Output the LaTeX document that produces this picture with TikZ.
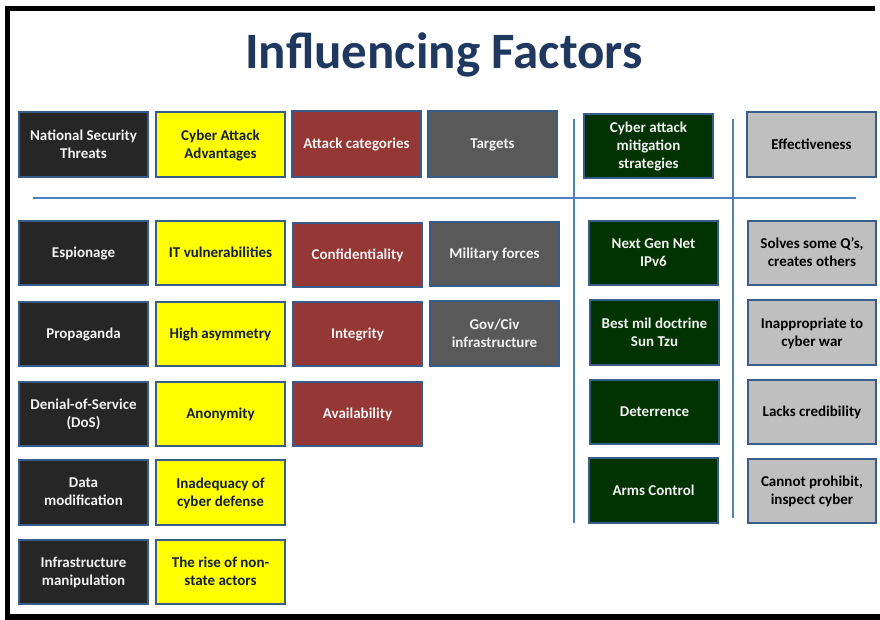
\documentclass[tikz,border=0pt]{standalone}
\usepackage{fontspec}
\setmainfont{Carlito}
\definecolor{titleblue}{RGB}{31,56,96}
\definecolor{edgeblue}{RGB}{56,93,138}
\definecolor{ruleblue}{RGB}{79,129,189}
\definecolor{threatfill}{RGB}{38,38,38}
\definecolor{advfill}{RGB}{255,255,0}
\definecolor{advtext}{RGB}{20,30,60}
\definecolor{catfill}{RGB}{149,55,53}
\definecolor{targetfill}{RGB}{89,89,89}
\definecolor{mitfill}{RGB}{0,51,0}
\definecolor{efffill}{RGB}{191,191,191}
\definecolor{lighttext}{RGB}{242,242,242}
\tikzset{
  x=1pt, y=-1pt,
  factor/.style={draw=edgeblue, line width=1.8pt, rectangle, anchor=north west,
    outer sep=0pt, minimum width=129pt, minimum height=64pt,
    inner xsep=2pt, inner ysep=2pt, text depth=1.5pt, align=center,
    font=\fontsize{15}{18}\selectfont\bfseries},
  threat/.style={factor, fill=threatfill, text=lighttext},
  adv/.style={factor, fill=advfill, text=advtext},
  cat/.style={factor, fill=catfill, text=lighttext},
  target/.style={factor, fill=targetfill, text=lighttext},
  mit/.style={factor, fill=mitfill, text=lighttext},
  eff/.style={factor, fill=efffill, text=black},
  divider/.style={draw=ruleblue, line width=1.4pt},
  frame/.style={fill=black}
}
\begin{document}
\begin{tikzpicture}
\useasboundingbox (0,0) rectangle (880,620);
\fill[white] (0,0) rectangle (880,620);
% slide frame
\fill[frame] (5,6) rectangle (875,11);
\fill[frame] (5,6) rectangle (10,620);
\fill[frame] (5,614) rectangle (880,620);

% title
\node[text=titleblue, font=\fontsize{51}{60}\selectfont\bfseries] (title) at (444,55) {Influencing Factors};

% dividers
\coordinate (hl) at (33,198);
\coordinate (hr) at (856,198);
\coordinate (v1t) at (574,119);
\coordinate (v1b) at (574,523);
\coordinate (v2t) at (733,119);
\coordinate (v2b) at (733,518);
\draw[divider] (hl) -- (hr);
\draw[divider] (v1t) -- (v1b);
\draw[divider] (v2t) -- (v2b);

% header row
\node[threat, minimum height=65pt] (hthreat) at (19,112) {National Security\\Threats};
\node[adv, minimum height=65pt]    (hadv)    at (156,112) {Cyber Attack\\Advantages};
\node[cat, minimum height=66pt]    (hcat)    at (292,111) {Attack categories};
\node[target, minimum height=66pt] (htarget) at (428,111) {Targets};
\node[mit]                         (hmit)    at (584,114) {Cyber attack\\mitigation\\strategies};
\node[eff, minimum height=65pt]    (heff)    at (747,112) {Effectiveness};

% national security threats
\node[threat] (t1) at (19,221) {Espionage};
\node[threat] (t2) at (19,302) {Propaganda};
\node[threat] (t3) at (19,382) {Denial-of-Service\\(DoS)};
\node[threat, minimum height=65pt] (t4) at (19,460) {Data\\modification};
\node[threat] (t5) at (19,540) {Infrastructure\\manipulation};

% cyber attack advantages
\node[adv] (a1) at (156,221) {IT vulnerabilities};
\node[adv] (a2) at (156,302) {High asymmetry};
\node[adv] (a3) at (156,382) {Anonymity};
\node[adv, minimum height=65pt] (a4) at (156,460) {Inadequacy of\\cyber defense};
\node[adv] (a5) at (156,540) {The rise of non-\\state actors};

% attack categories
\node[cat] (c1) at (293,223) {Confidentiality};
\node[cat] (c2) at (293,302) {Integrity};
\node[cat] (c3) at (293,382) {Availability};

% targets
\node[target] (g1) at (430,222) {Military forces};
\node[target, minimum height=65pt] (g2) at (430,301) {Gov/Civ\\infrastructure};

% mitigation strategies
\node[mit] (m1) at (589,221) {Next Gen Net\\IPv6};
\node[mit, minimum height=65pt] (m2) at (590,300) {Best mil doctrine\\Sun Tzu};
\node[mit] (m3) at (590,380) {Deterrence};
\node[mit, minimum height=65pt] (m4) at (589,458) {Arms Control};

% effectiveness
\node[eff, minimum width=128pt] (e1) at (748,221) {Solves some Q’s,\\creates others};
\node[eff, minimum width=128pt, minimum height=65pt] (e2) at (748,300) {Inappropriate to\\cyber war};
\node[eff, minimum width=128pt] (e3) at (748,380) {Lacks credibility};
\node[eff, minimum width=128pt] (e4) at (748,459) {Cannot prohibit,\\inspect cyber};
\end{tikzpicture}
\end{document}
